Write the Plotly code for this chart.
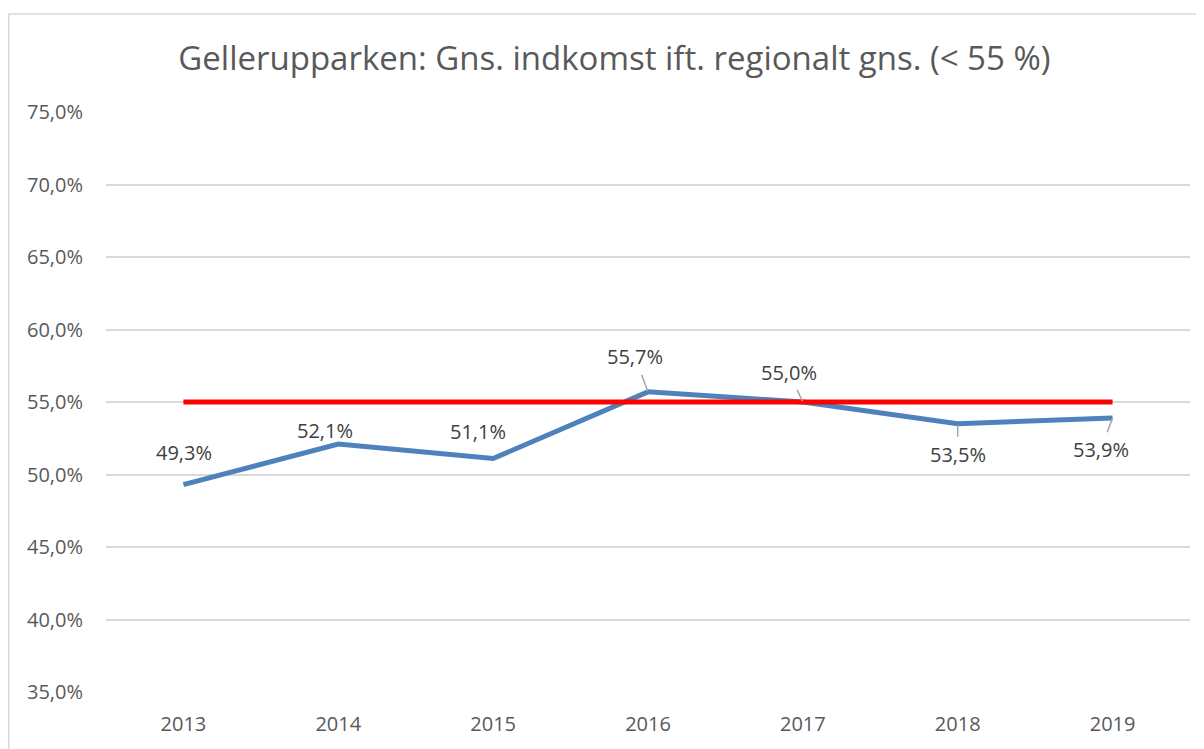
import plotly.graph_objects as go

years = [2013, 2014, 2015, 2016, 2017, 2018, 2019]
indkomst = [49.3, 52.1, 51.1, 55.7, 55.0, 53.5, 53.9]
graense = [55.0, 55.0, 55.0, 55.0, 55.0, 55.0, 55.0]
y_ticks = [35, 40, 45, 50, 55, 60, 65, 70, 75]

# label offsets in pixels (dx, dy, leader line?)
label_pos = [(1, -32, False), (-13, -14, False), (-15, -27, False),
             (-13, -35, True), (-14, -30, True), (0, 31, True), (-12, 32, True)]

FONT = "Open Sans"
TXT = "#595959"


def pct(v):
    return f"{v:.1f}%".replace(".", ",")


fig = go.Figure()

fig.add_trace(go.Scatter(
    x=years, y=indkomst, mode="lines",
    line=dict(color="#4f81bd", width=5),
    hoverinfo="skip", showlegend=False,
))
fig.add_trace(go.Scatter(
    x=years, y=graense, mode="lines",
    line=dict(color="#ff0000", width=5),
    hoverinfo="skip", showlegend=False,
))

for yr, v, (dx, dy, leader) in zip(years, indkomst, label_pos):
    if leader:
        fig.add_annotation(
            x=yr, y=v, text=pct(v), showarrow=True, ax=dx, ay=dy,
            arrowhead=0, arrowwidth=1.5, arrowcolor="#a6a6a6",
            standoff=1, startstandoff=3,
            font=dict(family=FONT, size=20, color="#404040"),
        )
    else:
        fig.add_annotation(
            x=yr, y=v, text=pct(v), showarrow=False, xshift=dx, yshift=-dy,
            font=dict(family=FONT, size=20, color="#404040"),
        )

# outer chart frame (runs off the right and bottom edges)
fig.add_shape(type="rect", xref="paper", yref="paper",
              x0=-0.0897, x1=1.05, y0=-0.12, y1=1.169,
              line=dict(color="#d9d9d9", width=1.5), layer="below")

fig.update_layout(
    width=1196, height=741,
    margin=dict(l=98, r=14, t=104, b=50),
    paper_bgcolor="white", plot_bgcolor="white",
    font=dict(family=FONT, color=TXT),
    title=dict(
        text="Gellerupparken: Gns. indkomst ift. regionalt gns. (< 55 %)",
        x=0.507, xanchor="center",
        y=0.932, yanchor="middle",
        font=dict(family=FONT, size=33, color=TXT),
    ),
    xaxis=dict(
        range=[years[0] - 0.5, years[-1] + 0.5],
        tickvals=years, ticktext=[str(y) for y in years],
        showgrid=False, showline=False, zeroline=False,
        tickfont=dict(family=FONT, size=20, color=TXT),
        ticks="outside", ticklen=14, tickcolor="rgba(0,0,0,0)",
    ),
    yaxis=dict(
        range=[35, 75], tickvals=y_ticks, ticktext=[pct(t) for t in y_ticks],
        showgrid=True, gridcolor="#d9d9d9", gridwidth=1.5,
        zeroline=False, showline=False,
        tickfont=dict(family=FONT, size=20, color=TXT),
        ticks="outside", ticklen=18, tickcolor="rgba(0,0,0,0)",
    ),
)

fig.write_html("out.html")
